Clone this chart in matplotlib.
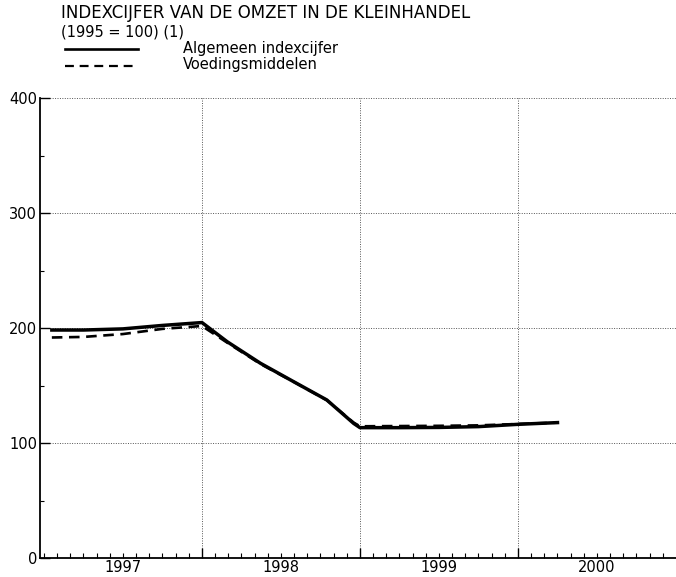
import matplotlib
matplotlib.use("Agg")
import matplotlib.pyplot as plt
import matplotlib.transforms as mtransforms
import numpy as np

plt.rcParams['font.family'] = ['DejaVu Sans']

# Data (fractional years)
x_alg = [1997.05, 1997.25, 1997.5, 1997.75, 1998.0, 1998.16, 1998.37, 1998.58,
         1998.79, 1998.96, 1999.0, 1999.25, 1999.5, 1999.75, 2000.0, 2000.25]
y_alg = [198.5, 198.5, 199.5, 202.5, 205.0, 188.3, 169.6, 153.6,
         137.7, 117.3, 113.6, 113.6, 113.8, 114.5, 116.5, 118.0]
x_voe = [1997.05, 1997.25, 1997.5, 1997.75, 1998.0, 1998.16, 1998.37, 1998.58,
         1998.79, 1998.96, 1999.0, 1999.25, 1999.5, 1999.75, 2000.0, 2000.25]
y_voe = [192.0, 192.5, 195.0, 199.5, 202.0, 187.5, 169.0, 153.5,
         137.5, 118.0, 114.8, 115.0, 115.2, 115.6, 116.8, 118.0]

years = [1997, 1998, 1999, 2000]
year_boundaries = [1998, 1999, 2000]
y_ticks = [0, 100, 200, 300, 400]

title1 = "INDEXCIJFER VAN DE OMZET IN DE KLEINHANDEL"
title2 = "(1995 = 100) (1)"
label_alg = "Algemeen indexcijfer"
label_voe = "Voedingsmiddelen"

fig = plt.figure(figsize=(6.76, 5.77), dpi=100)
ax = fig.add_axes([40/676, 1 - 558.3/577, 1 - 40/676, (558.3 - 98.3)/577])

ax.plot(x_alg, y_alg, color='black', lw=2.5, solid_joinstyle='round')
ax.plot(x_voe, y_voe, color='black', lw=1.9, linestyle=(0, (4, 2.5)))

ax.set_xlim(1996.975, 2001.0)
ax.set_ylim(0, 400)

for s in ['top', 'right']:
    ax.spines[s].set_visible(False)
for s in ['left', 'bottom']:
    ax.spines[s].set_linewidth(1.3)

ax.set_xticks(year_boundaries)
ax.set_xticklabels([])
ax.set_xticks(np.arange(1997, 2001.0, 1/12), minor=True)
ax.tick_params(axis='x', which='major', direction='in', length=7, width=1.0)
ax.tick_params(axis='x', which='minor', direction='in', length=3.5, width=0.8)

ax.set_yticks(y_ticks)
ax.set_yticks([50, 150, 250, 350], minor=True)
ax.tick_params(axis='y', which='major', direction='in', length=7, width=1.0,
               labelsize=10.5, pad=2)
ax.tick_params(axis='y', which='minor', direction='in', length=3, width=0.8)

ax.grid(True, which='major', linestyle=(0, (1, 1.5)), color='#555555', lw=0.7)

trans = mtransforms.blended_transform_factory(ax.transData, ax.transAxes)
for yr in years:
    ax.text(yr + 0.5, -0.004, str(yr), transform=trans, ha='center', va='top',
            fontsize=10.5)

fig.text(61/676, 1 - 13/577, title1, ha='left', va='center', fontsize=12)
fig.text(61/676, 1 - 32/577, title2, ha='left', va='center', fontsize=10.5)

# legend
fig.lines.append(plt.Line2D([65/676, 138/676], [1 - 49/577, 1 - 49/577],
                            transform=fig.transFigure, color='black', lw=1.9))
fig.lines.append(plt.Line2D([65/676, 138/676], [1 - 66/577, 1 - 66/577],
                            transform=fig.transFigure, color='black', lw=1.6,
                            linestyle=(0, (4, 2.6))))
fig.text(183/676, 1 - 48/577, label_alg, ha='left', va='center', fontsize=10.5)
fig.text(183/676, 1 - 65/577, label_voe, ha='left', va='center', fontsize=10.5)

fig.savefig("out.png", dpi=100)
